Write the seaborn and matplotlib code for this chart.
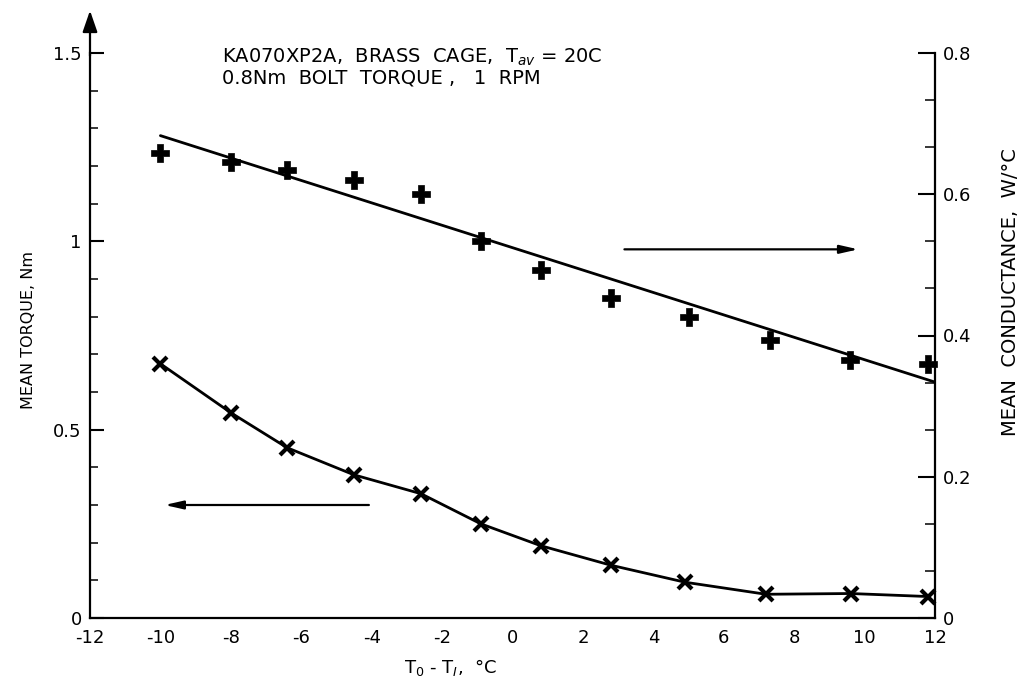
import numpy as np
import pandas as pd
import matplotlib
matplotlib.use("Agg")
import matplotlib.pyplot as plt
from matplotlib.ticker import MultipleLocator
import seaborn as sns

# ---- data ----
torque_dt = [-10.0, -8.0, -6.4, -4.5, -2.6, -0.9, 0.8, 2.8, 4.9, 7.2, 9.6, 11.8]
torque_nm = [0.675, 0.545, 0.452, 0.380, 0.330, 0.250, 0.192, 0.140, 0.095, 0.063, 0.065, 0.057]

cond_dt = [-10.0, -8.0, -6.4, -4.5, -2.6, -0.9, 0.8, 2.8, 5.0, 7.3, 9.6, 11.8]
cond_w = [0.659, 0.646, 0.634, 0.620, 0.600, 0.534, 0.493, 0.453, 0.426, 0.393, 0.366, 0.360]

fit_dt = [-10.0, 12.0]
fit_w = [0.683, 0.334]

x_ticks = [-12, -10, -8, -6, -4, -2, 0, 2, 4, 6, 8, 10, 12]
left_ticks = [0, 0.5, 1, 1.5]
left_labels = ["0", "0.5", "1", "1.5"]
right_ticks = [0, 0.2, 0.4, 0.6, 0.8]
right_labels = ["0", "0.2", "0.4", "0.6", "0.8"]

title_line1 = "KA070XP2A,  BRASS  CAGE,  T$_{av}$ = 20C"
title_line2 = "0.8Nm  BOLT  TORQUE ,   1  RPM"
left_label = "MEAN TORQUE, Nm"
right_label = "MEAN  CONDUCTANCE,  W/°C"
x_label = "T$_0$ - T$_I$,  °C"

sns.set_style("white")
plt.rcParams["font.family"] = ["DejaVu Sans"]
plt.rcParams["axes.unicode_minus"] = False

W, H = 1029, 687
fig = plt.figure(figsize=(W / 100, H / 100), dpi=100)
ax = fig.add_axes([90 / W, 1 - 618 / H, 845 / W, 565 / H])
ax2 = ax.twinx()

ink = "black"
df_t = pd.DataFrame({"dt": torque_dt, "t": torque_nm})
df_c = pd.DataFrame({"dt": cond_dt, "g": cond_w})
df_f = pd.DataFrame({"dt": fit_dt, "g": fit_w})

sns.lineplot(data=df_t, x="dt", y="t", ax=ax, color=ink, lw=2.0,
             marker="x", markersize=10, markeredgewidth=3.0, markeredgecolor=ink,
             clip_on=False, zorder=3)
sns.lineplot(data=df_f, x="dt", y="g", ax=ax2, color=ink, lw=2.0, zorder=3)
sns.scatterplot(data=df_c, x="dt", y="g", ax=ax2, color=ink, marker="P", s=150,
                edgecolor=ink, linewidth=0.5, clip_on=False, zorder=4)

ax.set_xlim(-12, 12)
ax.set_ylim(0, 1.5)
ax2.set_ylim(0, 0.8)

for a in (ax, ax2):
    a.spines["top"].set_visible(False)
    for s in a.spines.values():
        s.set_linewidth(1.6)
        s.set_color(ink)
ax.spines["right"].set_visible(False)
ax2.spines["left"].set_visible(False)
ax2.spines["bottom"].set_visible(False)

ax.set_xticks(x_ticks)
ax.set_xticklabels([str(v) for v in x_ticks])
ax.set_yticks(left_ticks)
ax.set_yticklabels(left_labels)
ax.yaxis.set_minor_locator(MultipleLocator(0.1))
ax2.set_yticks(right_ticks)
ax2.set_yticklabels(right_labels)
ax2.yaxis.set_minor_locator(MultipleLocator(0.2 / 3))

ax.tick_params(axis="x", direction="in", length=7, width=1.5, labelsize=13, pad=8, colors=ink)
ax.tick_params(axis="y", which="major", direction="in", length=10, width=1.5, labelsize=13, pad=6, colors=ink)
ax.tick_params(axis="y", which="minor", direction="in", length=6, width=1.3, left=True)
ax2.tick_params(axis="y", which="major", direction="in", length=12, width=1.5, labelsize=13, pad=6, colors=ink)
ax2.tick_params(axis="y", which="minor", direction="in", length=7, width=1.3, right=True)

ax.set_xlabel("")
ax.set_ylabel("")
ax2.set_ylabel("")

# arrow at top of left axis
ax.annotate("", xy=(0, 1.08), xytext=(0, 0.99), xycoords="axes fraction",
            arrowprops=dict(arrowstyle="-|>,head_length=1.3,head_width=0.45", lw=1.6, color=ink),
            annotation_clip=False)

# direction arrows
ax2.annotate("", xy=(9.9, 0.522), xytext=(3.1, 0.522),
             arrowprops=dict(arrowstyle="-|>,head_length=1.1,head_width=0.25", lw=1.6, color=ink))
ax.annotate("", xy=(-9.96, 0.30), xytext=(-4.0, 0.30),
            arrowprops=dict(arrowstyle="-|>,head_length=1.1,head_width=0.25", lw=1.6, color=ink))

# axis labels
fig.text(29 / W, 1 - 330 / H, left_label, rotation=90, ha="center", va="center",
         fontsize=11.5, color=ink)
fig.text(1010 / W, 1 - 292 / H, right_label, rotation=90, ha="center", va="center",
         fontsize=14, color=ink)
fig.text(450 / W, 1 - 667 / H, x_label, ha="center", va="center", fontsize=13, color=ink)

fig.text(222 / W, 1 - 57 / H, title_line1, ha="left", va="center", fontsize=14, color=ink)
fig.text(222 / W, 1 - 78 / H, title_line2, ha="left", va="center", fontsize=14, color=ink)

fig.savefig("out.png", dpi=100, facecolor="white")
